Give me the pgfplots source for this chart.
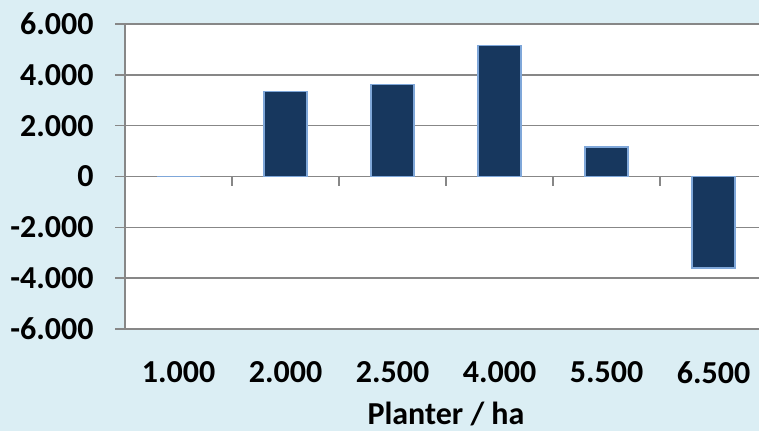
\documentclass[border=0pt]{standalone}
\usepackage{pgfplots}
\pgfplotsset{compat=1.18}
\usepackage{fontspec}
\setmainfont{Carlito}
\definecolor{bgc}{HTML}{DBEEF4}
\definecolor{barfill}{HTML}{17375E}
\definecolor{barline}{HTML}{7FA7D9}
\definecolor{gridc}{HTML}{878787}
\begin{document}
\begin{tikzpicture}
\fill[bgc] (0,0) rectangle (379.5pt,215.5pt);
\useasboundingbox (0,0) rectangle (379.5pt,215.5pt);
\begin{axis}[
  at={(62.5pt,51pt)}, anchor=south west,
  scale only axis, width=321pt, height=152.5pt,
  axis background/.style={fill=white},
  xmin=-0.5, xmax=5.5, ymin=-6000, ymax=6000,
  ytick={-6000,-4000,-2000,0,2000,4000,6000},
  yticklabels={-6.000,-4.000,-2.000,0,2.000,4.000,6.000},
  xtick={0,1,2,3,4,5},
  xticklabels={1.000,2.000,2.500,4.000,5.500,6.500},
  axis lines=left,
  x axis line style={draw=none},
  y axis line style={draw=gridc, line width=0.8pt, -},
  ymajorgrids, grid style={draw=gridc, line width=0.8pt},
  xtick style={draw=none},
  ytick style={draw=gridc, line width=0.8pt},
  tick align=outside, major tick length=5pt,
  /pgf/number format/assume math mode=true,
  tick label style={font=\fontsize{16}{19}\selectfont\bfseries, inner sep=0pt},
  yticklabel style={anchor=east, xshift=-10.5pt},
  xticklabel style={anchor=north, yshift=-11pt},
  xlabel={Planter / ha},
  xlabel style={at={(rel axis cs:0.5,0)}, anchor=base, yshift=-48pt, inner sep=0pt, font=\fontsize{16}{19}\selectfont\bfseries},
  ybar, bar width=21.5pt,
  clip=false,
]
\addplot[fill=barfill, draw=barline, line width=0.8pt] coordinates {
  (0,0) (1,3350) (2,3620) (3,5150) (4,1150) (5,-3600)
};
\foreach \k in {0.5,1.5,2.5,3.5,4.5} {
  \edef\temp{\noexpand\draw[gridc, line width=0.8pt] (axis cs:\k,0) -- ([yshift=-5pt]axis cs:\k,0);}
  \temp
}
\end{axis}
\end{tikzpicture}
\end{document}
